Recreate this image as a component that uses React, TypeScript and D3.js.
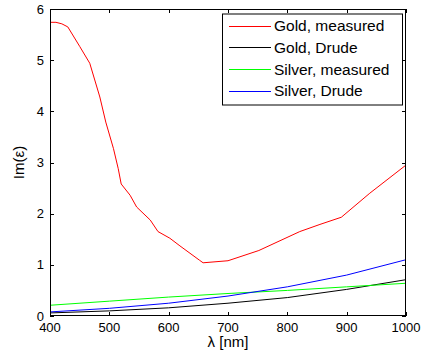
import React from "react";
import * as d3 from "d3";

const goldMeasuredLambda = [400, 410, 420, 430, 450, 467, 484, 494, 507, 515, 520, 535, 546, 569, 582, 602, 619, 652, 658, 700, 752, 821, 855, 891, 939, 1000];
const goldMeasuredIm = [5.74, 5.74, 5.71, 5.65, 5.27, 4.94, 4.28, 3.79, 3.27, 2.88, 2.58, 2.36, 2.13, 1.875, 1.65, 1.52, 1.37, 1.09, 1.04, 1.08, 1.28, 1.65, 1.79, 1.93, 2.40, 2.95];

const drudeLambda = [400, 500, 600, 700, 800, 900, 1000];
const goldDrudeIm = [0.06, 0.10, 0.16, 0.25, 0.36, 0.52, 0.71];
const silverMeasuredIm = [0.21, 0.29, 0.37, 0.44, 0.5, 0.57, 0.64];
const silverDrudeIm = [0.08, 0.15, 0.25, 0.39, 0.57, 0.8, 1.1];

const xTicks = [400, 500, 600, 700, 800, 900, 1000];
const yTicks = [0, 1, 2, 3, 4, 5, 6];

const seriesNames = ["Gold, measured", "Gold, Drude", "Silver, measured", "Silver, Drude"];
const seriesColors = ["#ff0000", "#000000", "#00ff00", "#0000ff"];

export default function App() {
  const W = 422, H = 360;
  const left = 50, right = 406, top = 9, bottom = 316;
  const x = d3.scaleLinear().domain([400, 1000]).range([left, right]);
  const y = d3.scaleLinear().domain([0, 6]).range([bottom, top]);
  const line = d3.line<[number, number]>().x(d => x(d[0])).y(d => y(d[1]));

  const series: [number, number][][] = [
    goldMeasuredLambda.map((l, i) => [l, goldMeasuredIm[i]]),
    drudeLambda.map((l, i) => [l, goldDrudeIm[i]]),
    drudeLambda.map((l, i) => [l, silverMeasuredIm[i]]),
    drudeLambda.map((l, i) => [l, silverDrudeIm[i]]),
  ];

  const tl = 4;
  const font = "'Liberation Sans', Arial, Helvetica, sans-serif";
  const legX = 222, legY = 13.5, legW = 180, legH = 91, rowH = 21.7;

  return (
    <svg width={W} height={H} style={{ position: "absolute", left: 0, top: 0, background: "#fff" }} fontFamily={font}>
      <defs>
        <clipPath id="clip">
          <rect x={left} y={top} width={right - left} height={bottom - top} />
        </clipPath>
      </defs>
      <rect x={0} y={0} width={W} height={H} fill="#fff" />
      <g clipPath="url(#clip)">
        {series.map((s, i) => (
          <path key={i} d={line(s) || ""} fill="none" stroke={seriesColors[i]} strokeWidth={1} />
        ))}
      </g>
      <rect x={left + 0.5} y={top + 0.5} width={right - left - 1} height={bottom - top - 1} fill="none" stroke="#000" strokeWidth={1} />
      {xTicks.map(t => (
        <g key={"x" + t}>
          <line x1={Math.round(x(t)) + 0.5} x2={Math.round(x(t)) + 0.5} y1={bottom} y2={bottom - tl} stroke="#000" />
          <line x1={Math.round(x(t)) + 0.5} x2={Math.round(x(t)) + 0.5} y1={top} y2={top + tl} stroke="#000" />
          <text x={x(t)} y={331.5} textAnchor="middle" fontSize={13} fill="#000">{t}</text>
        </g>
      ))}
      {yTicks.map(t => (
        <g key={"y" + t}>
          <line x1={left} x2={left + tl} y1={Math.round(y(t)) + 0.5} y2={Math.round(y(t)) + 0.5} stroke="#000" />
          <line x1={right} x2={right - tl} y1={Math.round(y(t)) + 0.5} y2={Math.round(y(t)) + 0.5} stroke="#000" />
          <text x={44} y={y(t) + 4.5} textAnchor="end" fontSize={13} fill="#000">{t}</text>
        </g>
      ))}
      <text x={(left + right) / 2} y={346.5} textAnchor="middle" fontSize={15} fill="#000">λ [nm]</text>
      <text transform={`translate(24, ${(top + bottom) / 2}) rotate(-90)`} textAnchor="middle" fontSize={15} fill="#000">Im(ε)</text>
      <rect x={legX + 0.5} y={legY + 0.5} width={legW} height={legH} fill="#fff" stroke="#000" strokeWidth={1} />
      {seriesNames.map((n, i) => {
        const cy = legY + 12.2 + i * rowH;
        return (
          <g key={n}>
            <line x1={229} x2={271} y1={Math.round(cy) + 0.5} y2={Math.round(cy) + 0.5} stroke={seriesColors[i]} strokeWidth={1} />
            <text x={274} y={cy + 5.5} fontSize={15.5} fill="#000">{n}</text>
          </g>
        );
      })}
    </svg>
  );
}
